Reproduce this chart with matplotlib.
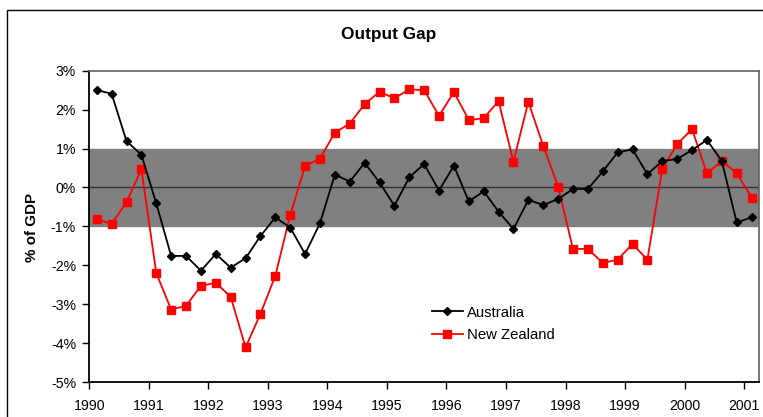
import matplotlib
matplotlib.use('Agg')
import matplotlib.pyplot as plt
from matplotlib.patches import Rectangle

plt.rcParams['font.family'] = ['Liberation Sans', 'DejaVu Sans']

# quarterly output gap, % of GDP, 1990Q1 - 2001Q1
australia = [2.50, 2.41, 1.19, 0.84, -0.41, -1.76, -1.76, -2.14, -1.71, -2.06,
             -1.82, -1.25, -0.77, -1.03, -1.71, -0.92, 0.33, 0.15, 0.63, 0.13,
             -0.47, 0.26, 0.60, -0.08, 0.56, -0.36, -0.10, -0.62, -1.07, -0.32,
             -0.45, -0.30, -0.04, -0.04, 0.41, 0.90, 0.98, 0.34, 0.68, 0.73,
             0.96, 1.22, 0.68, -0.90, -0.77]
new_zealand = [-0.81, -0.94, -0.38, 0.47, -2.20, -3.14, -3.04, -2.53, -2.45, -2.81,
               -4.11, -3.25, -2.27, -0.71, 0.55, 0.74, 1.41, 1.64, 2.14, 2.46,
               2.29, 2.52, 2.50, 1.84, 2.45, 1.73, 1.78, 2.22, 0.66, 2.20,
               1.07, 0.02, -1.58, -1.58, -1.94, -1.86, -1.45, -1.86, 0.47, 1.11,
               1.50, 0.36, 0.68, 0.37, -0.26]
years = ['1990', '1991', '1992', '1993', '1994', '1995', '1996', '1997',
         '1998', '1999', '2000', '2001']
y_ticks = [3, 2, 1, 0, -1, -2, -3, -4, -5]

x = list(range(len(australia)))

fig = plt.figure(figsize=(7.63, 4.17), dpi=100)
ax = fig.add_axes([89.3 / 763, 1 - 382 / 417, (759 - 89.3) / 763, (382 - 70.7) / 417])

# band of +/-1% and zero line
ax.axhspan(-1, 1, color='#808080', zorder=0)
ax.axhline(0, color='#333333', lw=1, zorder=1)

ax.plot(x, australia, color='black', lw=1.3, marker='D', ms=4.4,
        label='Australia', zorder=3)
ax.plot(x, new_zealand, color='#ff0000', lw=1.3, marker='s', ms=6.2,
        label='New Zealand', zorder=2)

ax.set_xlim(-0.5, len(x) - 0.5)
ax.set_ylim(-5, 3)
ax.set_xticks([-0.5 + 4 * k for k in range(len(years))])
ax.set_xticklabels(years)
ax.set_yticks(y_ticks)
ax.set_yticklabels([f'{v}%' for v in y_ticks])
ax.tick_params(axis='both', direction='out', length=5, width=1, colors='black',
               labelsize=10.2)
ax.tick_params(axis='y', pad=4.5)
ax.tick_params(axis='x', pad=7.5)

for s in ['left', 'bottom']:
    ax.spines[s].set_color('black')
    ax.spines[s].set_linewidth(1.3)
for s in ['top', 'right']:
    ax.spines[s].set_color('#606060')
    ax.spines[s].set_linewidth(1.2)

leg = ax.legend(loc='center left', bbox_to_anchor=(431.7 / 763, 1 - 324 / 417),
                bbox_transform=fig.transFigure, frameon=False, fontsize=10.7,
                handlelength=2.1, handletextpad=0.3, labelspacing=0.6,
                borderpad=0, borderaxespad=0)

fig.text(389 / 763, 1 - 35 / 417, 'Output Gap', ha='center', va='center',
         fontsize=12.4, fontweight='bold')
fig.text(31.5 / 763, 1 - 227.5 / 417, '% of GDP', ha='center', va='center',
         rotation=90, fontsize=10.9, fontweight='bold')

# outer chart frame (right and bottom edges fall outside the picture)
fig.patches.append(Rectangle((7 / 763, -0.2), 1.2, 1.2 - 10 / 417, fill=False,
                             edgecolor='black', lw=1, transform=fig.transFigure,
                             figure=fig))
# the last year label is cut off at the picture edge
fig.patches.append(Rectangle((760 / 763, 0), 0.1, 30 / 417, facecolor='white',
                             edgecolor='none', transform=fig.transFigure,
                             figure=fig, zorder=5))

fig.savefig('out.png', dpi=100, facecolor='white')
